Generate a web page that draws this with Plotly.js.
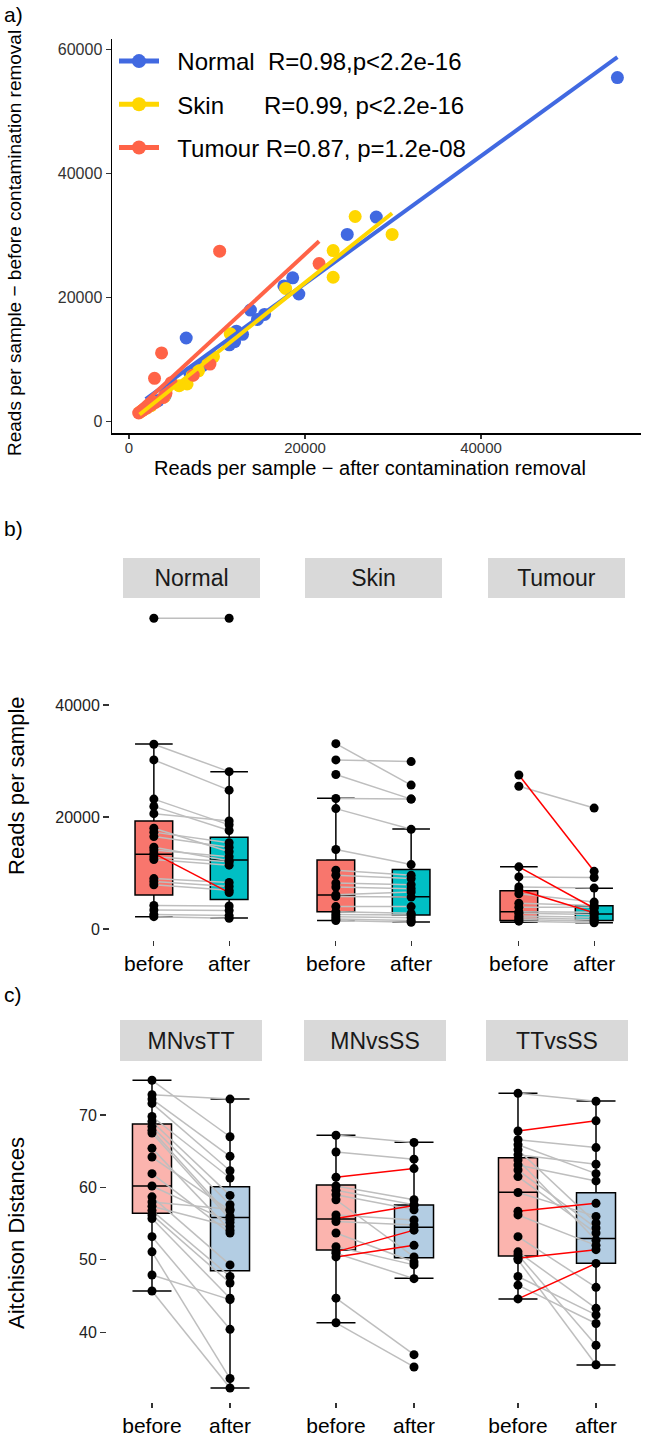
<!DOCTYPE html>
<html><head><meta charset="utf-8">
<script src="https://cdn.plot.ly/plotly-3.0.1.min.js"></script>
<style>html,body{margin:0;padding:0;background:#fff}#chart{width:646px;height:1444px}</style>
</head><body><div id="chart"></div>
<script>
// ---------------- DATA ----------------
const groupNames = ['Normal', 'Skin', 'Tumour'];
const groupColors = ['#4169E1', '#FFD700', '#FF6347'];
const legendLabels = [
  '\u00a0\u00a0Normal\u00a0\u00a0R=0.98,p&lt;2.2e-16',
  '\u00a0\u00a0Skin\u00a0\u00a0\u00a0\u00a0\u00a0\u00a0R=0.99, p&lt;2.2e-16',
  '\u00a0\u00a0Tumour R=0.87, p=1.2e-08'
];
const stageLabels = ['before', 'after'];

// reads per sample (paired)
const normalBefore = [55500, 33000, 30200, 23200, 21900, 20600, 18000, 17300, 16500, 14600, 14100, 13500, 12900, 12400, 9000, 8500, 7900, 4200, 3400, 2600, 2200];
const normalAfter  = [55500, 28100, 24800, 18600, 17600, 19300, 13800, 15400, 14600, 12200, 12900, 6500, 12000, 11400, 8300, 7600, 6900, 4100, 3300, 2400, 1900];
const normalRed = [11];
const skinBefore = [33100, 30200, 27600, 23300, 21500, 14200, 10500, 9600, 8200, 7500, 6100, 5800, 4000, 3100, 2600, 2200, 1800, 1500];
const skinAfter  = [25700, 29900, 23200, 23200, 17800, 11500, 9600, 9000, 7900, 7200, 6600, 5700, 4000, 2800, 2500, 2000, 1500, 1200];
const skinRed = [];
const tumourBefore = [27500, 25500, 11100, 9300, 7500, 7000, 6300, 4600, 3900, 3100, 2800, 2300, 2000, 1700, 1400];
const tumourAfter  = [10300, 21600, 3700, 9200, 7300, 2900, 4800, 4200, 3900, 3000, 2600, 2100, 1700, 1400, 1100];
const tumourRed = [0, 2, 5];

// box statistics: [lower, q1, median, q3, upper]
const normalBeforeBox = [2200, 6070, 13340, 19290, 33040];
const normalAfterBox  = [1960, 5280, 12310, 16370, 28100];
const skinBeforeBox   = [1500, 3090, 6070, 12320, 23330];
const skinAfterBox    = [1250, 2500, 5760, 10640, 17860];
const tumourBeforeBox = [1200, 1500, 3090, 6820, 11130];
const tumourAfterBox  = [1100, 1500, 2700, 4170, 7260];

// Aitchison distances (paired)
const mnttBefore = [74.8, 72.8, 72.2, 71.6, 69.8, 69.1, 68.4, 67.9, 67.5, 65.4, 64.2, 61.9, 60.2, 58.7, 58.0, 57.4, 56.8, 56.2, 55.7, 53.2, 51.1, 47.9, 45.7];
const mnttAfter  = [67.0, 72.2, 64.3, 62.3, 61.3, 58.9, 57.6, 56.0, 55.6, 54.1, 56.8, 53.7, 55.2, 49.3, 57.0, 54.6, 47.7, 46.8, 44.7, 40.4, 33.6, 44.5, 32.3];
const mnttRed = [];
const mnssBefore = [67.2, 64.9, 61.4, 60.2, 59.6, 59.0, 58.3, 56.2, 55.7, 55.3, 53.7, 51.8, 51.1, 50.9, 50.4, 44.7, 41.3];
const mnssAfter  = [66.2, 63.9, 62.6, 58.3, 57.6, 56.9, 50.4, 55.5, 57.5, 54.8, 49.7, 49.3, 54.1, 47.4, 52.0, 36.9, 35.2];
const mnssRed = [2, 8, 12, 14];
const ttssBefore = [73.0, 67.8, 66.6, 65.9, 65.2, 64.5, 63.8, 63.1, 62.4, 61.5, 59.3, 56.7, 56.2, 53.2, 51.1, 50.7, 50.2, 50.0, 47.7, 46.5, 44.6];
const ttssAfter  = [71.9, 69.2, 65.5, 61.9, 55.1, 63.2, 52.7, 60.9, 54.4, 53.7, 56.0, 57.8, 52.0, 46.2, 43.3, 38.2, 51.4, 35.5, 42.4, 41.2, 49.5];
const ttssRed = [1, 11, 16, 20];

const mnttBeforeBox = [45.7, 56.42, 60.19, 68.76, 74.8];
const mnttAfterBox  = [32.3, 48.5, 55.86, 60.1, 72.2];
const mnssBeforeBox = [41.3, 51.35, 55.64, 60.33, 67.2];
const mnssAfterBox  = [47.44, 50.3, 54.49, 57.57, 66.24];
const ttssBeforeBox = [44.59, 50.52, 59.32, 64.1, 73.0];
const ttssAfterBox  = [35.47, 49.51, 52.96, 59.27, 71.93];

const readsFacets = ['Normal', 'Skin', 'Tumour'];
const distFacets = ['MNvsTT', 'MNvsSS', 'TTvsSS'];
const readsTicks = [0, 20000, 40000];
const scatterXTicks = [0, 20000, 40000];
const scatterYTicks = [0, 20000, 40000, 60000];
const distTicks = [40, 50, 60, 70];

// ---------------- BUILD ----------------
const W = 646, H = 1444;
const fx = p => p / W;
const fy = p => 1 - p / H;
const FONT = '"Liberation Sans", Arial, Helvetica, sans-serif';
const traces = [];
const annotations = [];

// Panel a: scatter
const scatterSets = [[normalBefore, normalAfter], [skinBefore, skinAfter], [tumourBefore, tumourAfter]];
scatterSets.forEach((s, g) => {
  traces.push({type: 'scatter', mode: 'markers', x: s[1], y: s[0], xaxis: 'x', yaxis: 'y',
    marker: {color: groupColors[g], size: 13}, showlegend: false, hoverinfo: 'skip'});
});
scatterSets.forEach((s, g) => {
  const xs = s[1], ys = s[0], n = xs.length;
  const mx = xs.reduce((a, b) => a + b, 0) / n, my = ys.reduce((a, b) => a + b, 0) / n;
  let sxy = 0, sxx = 0;
  for (let i = 0; i < n; i++) { sxy += (xs[i] - mx) * (ys[i] - my); sxx += (xs[i] - mx) ** 2; }
  const b = sxy / sxx, a = my - b * mx;
  const x0 = Math.min(...xs), x1 = Math.max(...xs);
  traces.push({type: 'scatter', mode: 'lines', x: [x0, x1], y: [a + b * x0, a + b * x1], xaxis: 'x', yaxis: 'y',
    line: {color: groupColors[g], width: 4}, showlegend: false, hoverinfo: 'skip'});
});
groupNames.forEach((nm, g) => {
  traces.push({type: 'scatter', mode: 'lines+markers', x: [null], y: [null], xaxis: 'x', yaxis: 'y',
    name: legendLabels[g], legendgroup: nm, line: {color: groupColors[g], width: 5},
    marker: {color: groupColors[g], size: 14}, showlegend: true});
});

// facet helpers
function addFacet(ax, before, after, red, boxB, boxA, fillB, fillA, ptSize) {
  const xa = 'x' + ax, ya = 'y' + ax;
  [[boxB, fillB, 'before'], [boxA, fillA, 'after']].forEach(([bx, fill, lab]) => {
    traces.push({type: 'box', x: [lab], lowerfence: [bx[0]], q1: [bx[1]], median: [bx[2]], q3: [bx[3]], upperfence: [bx[4]],
      xaxis: xa, yaxis: ya, width: 0.5, whiskerwidth: 1, fillcolor: fill, line: {color: '#000', width: 1.5},
      boxpoints: false, showlegend: false, hoverinfo: 'skip'});
  });
  const gx = [], gy = [], rx = [], ry = [];
  before.forEach((b, i) => {
    if (red.includes(i)) { rx.push('before', 'after', null); ry.push(b, after[i], null); }
    else { gx.push('before', 'after', null); gy.push(b, after[i], null); }
  });
  traces.push({type: 'scatter', mode: 'lines', x: gx, y: gy, xaxis: xa, yaxis: ya,
    line: {color: '#BEBEBE', width: 1.5}, showlegend: false, hoverinfo: 'skip'});
  traces.push({type: 'scatter', mode: 'lines', x: rx, y: ry, xaxis: xa, yaxis: ya,
    line: {color: '#FF0000', width: 1.5}, showlegend: false, hoverinfo: 'skip'});
  traces.push({type: 'scatter', mode: 'markers',
    x: before.map(() => 'before').concat(after.map(() => 'after')), y: before.concat(after),
    xaxis: xa, yaxis: ya, marker: {color: '#000', size: ptSize}, showlegend: false, hoverinfo: 'skip'});
}

addFacet(2, normalBefore, normalAfter, normalRed, normalBeforeBox, normalAfterBox, '#F8766D', '#00BFC4', 9);
addFacet(3, skinBefore, skinAfter, skinRed, skinBeforeBox, skinAfterBox, '#F8766D', '#00BFC4', 9);
addFacet(4, tumourBefore, tumourAfter, tumourRed, tumourBeforeBox, tumourAfterBox, '#F8766D', '#00BFC4', 9);
addFacet(5, mnttBefore, mnttAfter, mnttRed, mnttBeforeBox, mnttAfterBox, '#FBB4AE', '#B3CDE3', 9);
addFacet(6, mnssBefore, mnssAfter, mnssRed, mnssBeforeBox, mnssAfterBox, '#FBB4AE', '#B3CDE3', 9);
addFacet(7, ttssBefore, ttssAfter, ttssRed, ttssBeforeBox, ttssAfterBox, '#FBB4AE', '#B3CDE3', 9);

// ---------------- LAYOUT ----------------
const layout = {
  width: W, height: H, margin: {l: 0, r: 0, t: 0, b: 0},
  paper_bgcolor: '#fff', plot_bgcolor: 'rgba(0,0,0,0)',
  font: {family: FONT, color: '#000'},
  showlegend: true,
  legend: {x: fx(114), y: fy(39), xanchor: 'left', yanchor: 'top', bgcolor: 'rgba(0,0,0,0)',
    font: {size: 24, color: '#000', family: FONT}, traceorder: 'grouped', tracegroupgap: 9, itemwidth: 40},
  xaxis: {domain: [fx(112), fx(641)], range: [-1932, 58182], anchor: 'y', showline: true, linecolor: '#000', linewidth: 1.5,
    ticks: 'outside', ticklen: 4, tickwidth: 1.5, tickcolor: '#333', tickvals: scatterXTicks, tickformat: 'd',
    ticklabelstandoff: -4, tickfont: {size: 15, color: '#333'}, showgrid: false, zeroline: false},
  yaxis: {domain: [fy(433), fy(39)], range: [-1823, 61730], anchor: 'x', showline: true, linecolor: '#000', linewidth: 1.5,
    ticks: 'outside', ticklen: 5, tickwidth: 1.5, tickcolor: '#333', tickvals: scatterYTicks, tickformat: 'd',
    tickfont: {size: 16, color: '#333'}, showgrid: false, zeroline: false},
  annotations: annotations
};

const readsCols = [[123, 260], [305, 442], [488, 625]];
const distCols = [[120, 262], [304, 446], [486, 628]];
function facetAxes(startIdx, cols, top, bot, yrange, yticks, yAxisPos, stripTop, stripBot, names) {
  cols.forEach((c, k) => {
    const i = startIdx + k;
    layout['xaxis' + i] = {domain: [fx(c[0]), fx(c[1])], anchor: 'y' + i, type: 'category',
      categoryorder: 'array', categoryarray: stageLabels, range: [-0.41, 1.41],
      showline: false, showgrid: false, zeroline: false, ticks: 'outside', ticklen: 5, tickwidth: 1.2, tickcolor: '#333',
      tickfont: {size: 21, color: '#000'}};
    const ya = {domain: [fy(bot), fy(top)], range: yrange, showgrid: false, zeroline: false, showline: false};
    if (k === 0) {
      Object.assign(ya, {anchor: 'free', position: fx(yAxisPos), ticks: 'outside', ticklen: 6, tickwidth: 1.2,
        tickcolor: '#333', tickvals: yticks, tickformat: 'd', tickfont: {size: 16, color: '#222'}});
    } else {
      Object.assign(ya, {anchor: 'x' + i, showticklabels: false, ticks: ''});
    }
    layout['yaxis' + i] = ya;
    annotations.push({xref: 'paper', yref: 'paper', x: fx((c[0] + c[1]) / 2), y: fy((stripTop + stripBot) / 2),
      xanchor: 'center', yanchor: 'middle', text: names[k], showarrow: false, bgcolor: '#D9D9D9',
      width: c[1] - c[0], height: stripBot - stripTop, borderpad: 0, borderwidth: 0,
      font: {size: 23, color: '#1A1A1A'}});
  });
}
facetAxes(2, readsCols, 603, 940, [-1965, 58224], readsTicks, 109, 558, 598, readsFacets);
facetAxes(5, distCols, 1065, 1402, [30.36, 76.91], distTicks, 106, 1020, 1061, distFacets);

// titles and panel tags
const txt = (text, x, y, size, angle, anchor) => annotations.push({xref: 'paper', yref: 'paper', x: fx(x), y: fy(y),
  xanchor: anchor || 'center', yanchor: 'middle', text: text, showarrow: false, textangle: angle || 0,
  font: {size: size, color: '#000'}});
txt('a)', 2, 15, 21, 0, 'left');
txt('b)', 2, 528, 21, 0, 'left');
txt('c)', 2, 994, 21, 0, 'left');
txt('Reads per sample \u2212 after contamination removal', 370, 468, 20);
txt('Reads per sample \u2212 before contamination removal', 14, 243, 19, -90);
txt('Reads per sample', 16, 786, 22, -90);
txt('Aitchison Distances', 16, 1233, 22, -90);

Plotly.newPlot('chart', traces, layout, {staticPlot: true, displayModeBar: false});
</script>
</body></html>
